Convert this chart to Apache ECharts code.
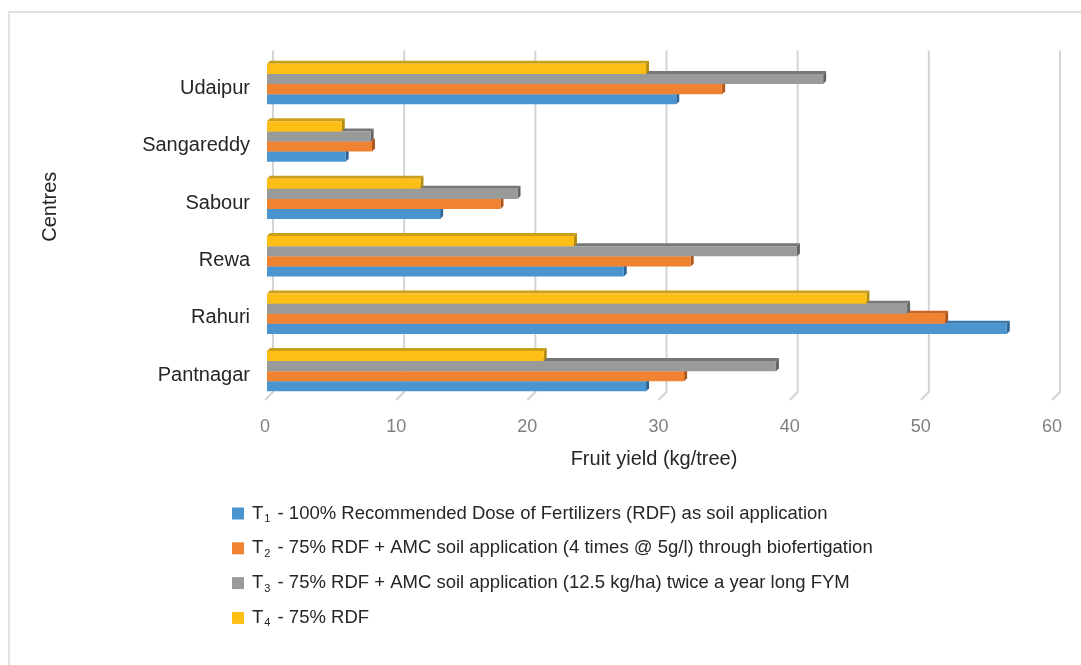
<!DOCTYPE html>
<html>
<head>
<meta charset="utf-8">
<script src="https://cdn.jsdelivr.net/npm/echarts@6/dist/echarts.min.js"></script>
<style>
  html, body { margin: 0; padding: 0; background: #ffffff; }
  #chart { width: 1081px; height: 665px; }
</style>
</head>
<body>
<div id="chart"></div>
<script>
// Fruit yield (kg/tree) per centre under four fertilizer treatments
const centres = ['Pantnagar', 'Rahuri', 'Rewa', 'Sabour', 'Sangareddy', 'Udaipur'];
const t1Yield = [28.9, 56.4, 27.2, 13.2, 6.0, 31.2];
const t2Yield = [31.8, 51.7, 32.3, 17.8, 8.0, 34.7];
const t3Yield = [38.8, 48.8, 40.4, 19.1, 7.9, 42.4];
const t4Yield = [21.1, 45.7, 23.4, 11.7, 5.7, 28.9];
const xTicks = [0, 10, 20, 30, 40, 50, 60];

const treatmentNames = [
  'T1 - 100% Recommended Dose of Fertilizers (RDF) as soil application',
  'T2 - 75% RDF + AMC soil application (4 times @ 5g/l) through biofertigation',
  'T3 - 75% RDF + AMC soil application (12.5 kg/ha) twice a year long FYM',
  'T4 - 75% RDF'
];
const treatmentYields = [t1Yield, t2Yield, t3Yield, t4Yield];

// front face, top face, side face shades
const palette = [
  ['#4a94d0', '#3a78ad', '#2d6696'],
  ['#f08332', '#c8661f', '#b0541a'],
  ['#999b9b', '#767878', '#636565'],
  ['#fdbe16', '#caa01a', '#b58d0e']
];

const FONT = '"Liberation Sans", Arial, Helvetica, sans-serif';

// one extruded bar per data item; slot 0 sits lowest in each centre group
function barRenderer(slot) {
  return function (params, api) {
    const val = api.value(0);
    const ci = api.value(1);
    const start = api.coord([0, ci]);
    const end = api.coord([val, ci]);
    const band = api.size([0, 1])[1];
    const barH = band * 0.176;
    const bottom = start[1] + band * 0.28;
    const y = bottom - (slot + 1) * barH;
    const x0 = start[0];
    const x1 = end[0];
    const dx = 3, dy = 3;
    const c = palette[slot];
    return {
      type: 'group',
      children: [
        {
          type: 'polygon',
          shape: { points: [[x0, y], [x1, y], [x1 + dx, y - dy], [x0 + dx, y - dy]] },
          style: { fill: c[1] }
        },
        {
          type: 'polygon',
          shape: { points: [[x1, y], [x1 + dx, y - dy], [x1 + dx, y + barH - dy], [x1, y + barH]] },
          style: { fill: c[2] }
        },
        {
          type: 'rect',
          shape: { x: x0, y: y, width: x1 - x0, height: barH },
          style: { fill: c[0] }
        }
      ]
    };
  };
}

// back-wall gridline with its short floor segment
function gridRenderer(params, api) {
  const x = api.coord([api.value(0), 0])[0];
  const cs = params.coordSys;
  const top = cs.y - 9;
  const bottom = cs.y + cs.height;
  return {
    type: 'polyline',
    shape: { points: [[x + 6, top], [x + 6, bottom - 12], [x - 2, bottom - 4]] },
    style: { stroke: '#d4d4d4', lineWidth: 2, fill: null }
  };
}

const series = [{
  type: 'custom',
  name: 'grid',
  renderItem: gridRenderer,
  data: xTicks.map(v => [v, 0]),
  encode: { x: 0, y: 1 },
  clip: false,
  silent: true,
  z: 1
}];

treatmentNames.forEach((name, k) => {
  series.push({
    type: 'custom',
    name: name,
    renderItem: barRenderer(k),
    data: treatmentYields[k].map((v, i) => [v, i]),
    encode: { x: 0, y: 1 },
    itemStyle: { color: palette[k][0] },
    clip: false,
    z: 2
  });
});

const chart = echarts.init(document.getElementById('chart'), null, { renderer: 'canvas' });
chart.setOption({
  animation: false,
  backgroundColor: '#ffffff',
  textStyle: { fontFamily: FONT },
  graphic: [{
    type: 'rect',
    shape: { x: 9, y: 12, width: 1200, height: 800 },
    style: { fill: null, stroke: '#d9d9d9', lineWidth: 1.5 },
    silent: true,
    z: 0
  }],
  grid: { left: 267, right: 27, top: 59.5, bottom: 261 },
  xAxis: {
    type: 'value',
    min: 0, max: 60, interval: 10,
    axisLine: { show: false },
    axisTick: { show: false },
    splitLine: { show: false },
    axisLabel: {
      color: '#7f7f7f', fontSize: 18, fontFamily: FONT, margin: 14,
      padding: [0, 4, 0, 0]
    },
    name: 'Fruit yield (kg/tree)',
    nameLocation: 'middle',
    nameGap: 45,
    nameTextStyle: { color: '#262626', fontSize: 20, fontFamily: FONT, padding: [0, 13, 0, 0] }
  },
  yAxis: {
    type: 'category',
    data: centres,
    axisLine: { show: false },
    axisTick: { show: false },
    axisLabel: { color: '#262626', fontSize: 20, fontFamily: FONT, margin: 17 },
    name: 'Centres',
    nameLocation: 'middle',
    nameRotate: 90,
    nameGap: 207,
    nameTextStyle: { color: '#262626', fontSize: 20, fontFamily: FONT, padding: [0, 0, 0, 50] }
  },
  legend: {
    orient: 'vertical',
    left: 227,
    top: 499,
    itemWidth: 12,
    itemHeight: 12,
    itemGap: 14.3,
    icon: 'rect',
    data: treatmentNames,
    formatter: function (name) {
      const m = name.match(/^T(\d)(.*)$/);
      return '{t|T}{s|' + m[1] + '}{t|' + m[2] + '}';
    },
    textStyle: {
      color: '#262626',
      fontSize: 18,
      fontFamily: FONT,
      padding: [0, 0, 0, 3],
      rich: {
        t: { fontSize: 18.5, color: '#262626', fontFamily: FONT, lineHeight: 22, verticalAlign: 'middle' },
        s: { fontSize: 11, color: '#262626', fontFamily: FONT, lineHeight: 22, verticalAlign: 'bottom', padding: [0, 2, 0, 1] }
      }
    }
  },
  series: series
});
</script>
</body>
</html>
